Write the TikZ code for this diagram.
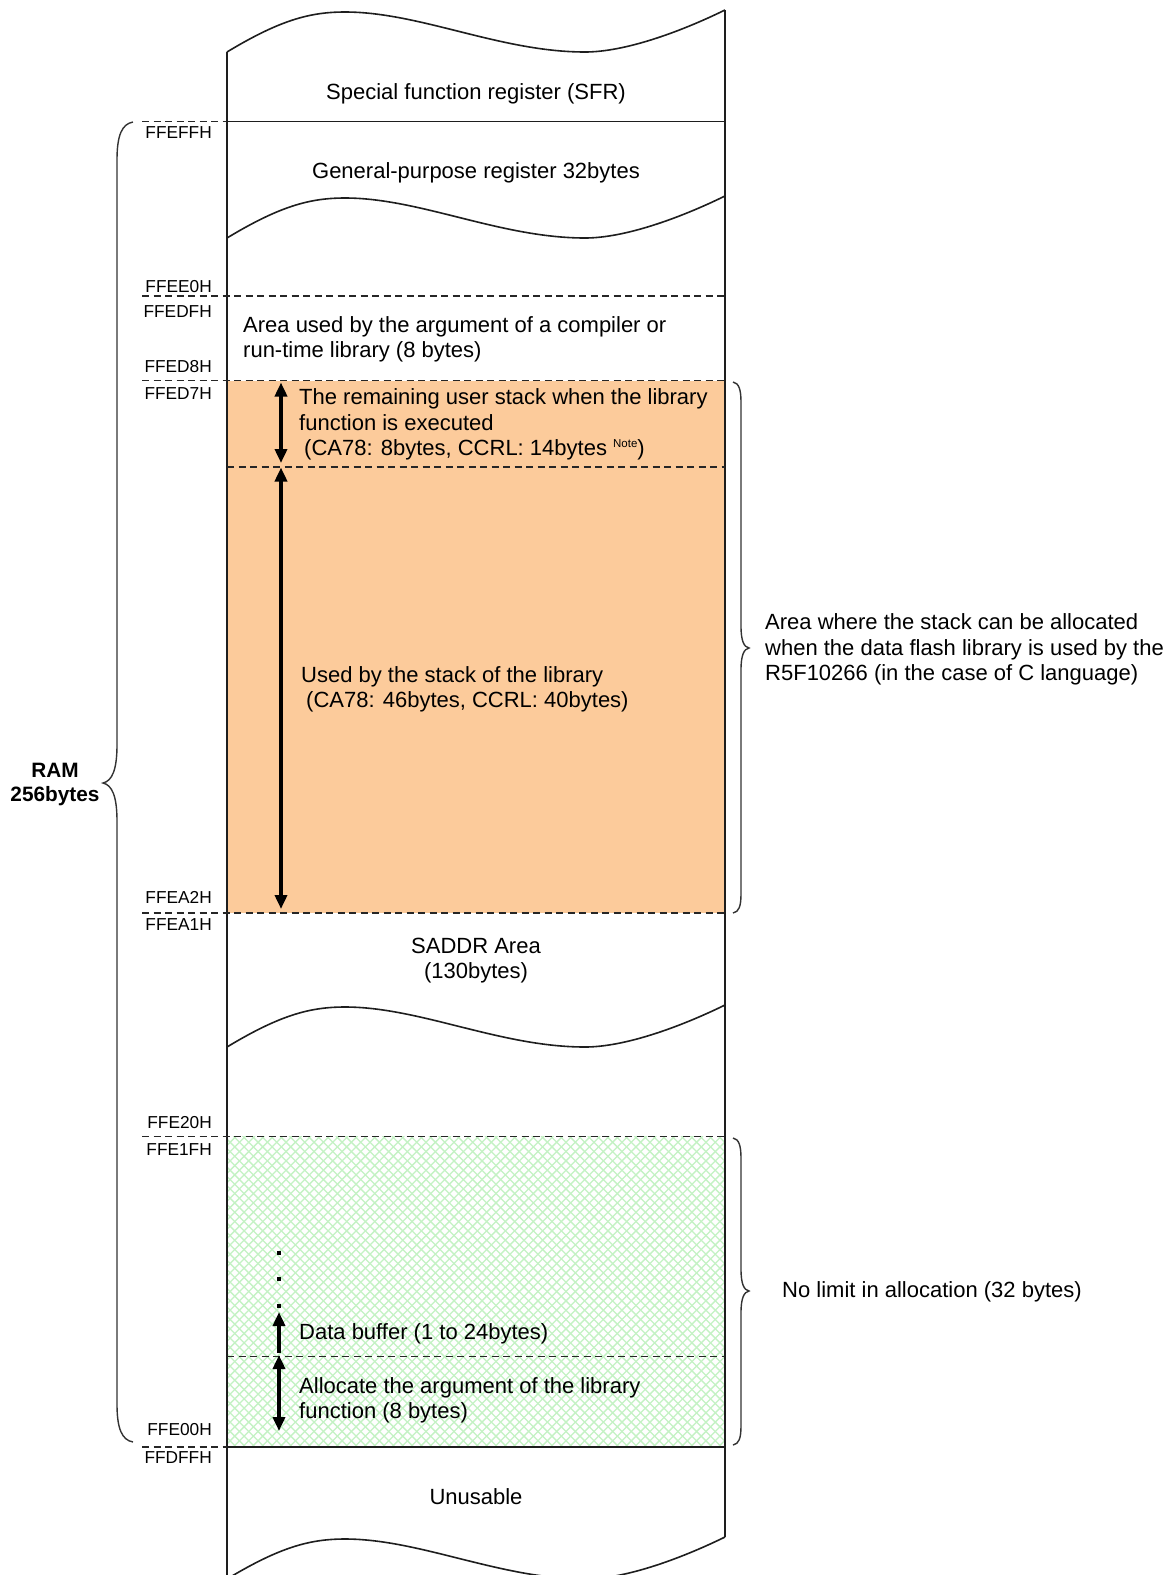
\documentclass[tikz,border=0pt]{standalone}
\usepackage{fontspec}
\setmainfont{Liberation Sans}
\usetikzlibrary{arrows.meta}
\definecolor{stackorange}{RGB}{252,203,155}
\definecolor{hatchgreen}{RGB}{196,242,196}
\definecolor{inkline}{RGB}{30,30,30}
\begin{document}
\begin{tikzpicture}[x=1pt,y=-1pt,
  frame/.style={draw=inkline,line width=1.6pt},
  dashline/.style={draw=black!85,line width=1.6pt,dash pattern=on 7pt off 4.5pt},
  bracepath/.style={draw=black!80,line width=1.4pt},
  hatch/.style={draw=hatchgreen,line width=1.3pt},
  dimarrow/.style={line width=4.3pt,{Triangle[width=12pt,length=14pt]}-{Triangle[width=12pt,length=14pt]}},
  uparrow/.style={line width=4.3pt,-{Triangle[width=12pt,length=14pt]}},
  maintxt/.style={font=\fontsize{22}{26}\selectfont,inner sep=0pt,anchor=base},
  mainleft/.style={maintxt,anchor=base west},
  hexlbl/.style={font=\fontsize{17.3}{20}\selectfont,inner sep=0pt,anchor=base east},
  ramlbl/.style={font=\bfseries\fontsize{20.8}{24}\selectfont,inner sep=0pt,anchor=base}]
\useasboundingbox (0,0) rectangle (1172,1575);
\clip (0,0) rectangle (1172,1575);
\fill[white] (0,0) rectangle (1172,1575);

% coloured areas
\fill[stackorange] (227,380.5) rectangle (725,913);
\begin{scope}
  \clip (227,1136.5) rectangle (725,1447);
  \foreach \i in {0,...,90} {
    \draw[hatch] ({1363+\i*9.33-1447},1447) -- ({1363+\i*9.33-1136},1136);
    \draw[hatch] ({-1220+\i*9.33+1136},1136) -- ({-1220+\i*9.33+1447},1447);
  }
\end{scope}

% column borders
\draw[frame] (227,52) -- (227,1580);
\draw[frame] (725,10) -- (725,1537);

% break waves
\foreach \o in {0,186,995,1527} {
  \draw[frame] (227,{52+\o}) .. controls (280,{20+\o}) and (310,{12+\o}) .. (345,{12+\o})
     .. controls (420,{12+\o}) and (500,{52+\o}) .. (585,{52+\o})
     .. controls (625,{52+\o}) and (680,{32+\o}) .. (725,{10+\o});
}

% solid boundaries
\draw[frame] (227,121.5) -- (725,121.5);
\draw[frame] (227,1447) -- (725,1447);

% dashed boundaries
\draw[dashline] (142,121.5) -- (227,121.5);
\draw[dashline] (142,296) -- (725,296);
\draw[dashline] (142,380.5) -- (725,380.5);
\draw[dashline] (227,467) -- (725,467);
\draw[dashline] (142,913) -- (725,913);
\draw[dashline] (142,1136.5) -- (725,1136.5);
\draw[dashline] (227,1356.5) -- (725,1356.5);
\draw[dashline] (142,1447) -- (227,1447);

% address labels
\node[hexlbl] (hFFEFF) at (212,138) {FFEFFH};
\node[hexlbl] (hFFEE0) at (212,292) {FFEE0H};
\node[hexlbl] (hFFEDF) at (212,317) {FFEDFH};
\node[hexlbl] (hFFED8) at (212,372) {FFED8H};
\node[hexlbl] (hFFED7) at (212,399) {FFED7H};
\node[hexlbl] (hFFEA2) at (212,903.5) {FFEA2H};
\node[hexlbl] (hFFEA1) at (212,930.5) {FFEA1H};
\node[hexlbl] (hFFE20) at (212,1128.5) {FFE20H};
\node[hexlbl] (hFFE1F) at (212,1155.5) {FFE1FH};
\node[hexlbl] (hFFE00) at (212,1435.5) {FFE00H};
\node[hexlbl] (hFFDFF) at (212,1463.5) {FFDFFH};

% texts in the column
\node[maintxt] (sfr) at (476,99) {Special function register (SFR)};
\node[maintxt] (gpr) at (476,178) {General-purpose register 32bytes};
\node[mainleft] (arg1) at (243,332) {Area used by the argument of a compiler or};
\node[mainleft] (arg2) at (243,357) {run-time library (8 bytes)};
\node[mainleft] (rem1) at (299,404) {The remaining user stack when the library};
\node[mainleft] (rem2) at (299,430) {function is executed};
\node[mainleft] (rem3) at (304,455.5) {(CA78: 8bytes, CCRL: 14bytes \raisebox{8pt}{\fontsize{11.5}{12}\selectfont Note})};
\node[mainleft] (use1) at (301,682) {Used by the stack of the library};
\node[mainleft] (use2) at (306,707) {(CA78: 46bytes, CCRL: 40bytes)};
\node[maintxt] (sad1) at (476,953) {SADDR Area};
\node[maintxt] (sad2) at (476,978) {(130bytes)};
\node[mainleft] (buf) at (299,1339.5) {Data buffer (1 to 24bytes)};
\node[mainleft] (alo1) at (299,1393.5) {Allocate the argument of the library};
\node[mainleft] (alo2) at (299,1418.5) {function (8 bytes)};
\node[maintxt] (unu) at (476,1504) {Unusable};

% dimension arrows
\coordinate (a1t) at (281,382.5);
\coordinate (a1b) at (281,463);
\coordinate (a2t) at (281,467.5);
\coordinate (a2b) at (281,909);
\coordinate (a3b) at (279,1353);
\coordinate (a3t) at (279,1312);
\coordinate (a4t) at (279,1355);
\coordinate (a4b) at (279,1431);
\draw[dimarrow] (a1t) -- (a1b);
\draw[dimarrow] (a2t) -- (a2b);
\draw[uparrow] (a3b) -- (a3t);
\draw[dimarrow] (a4t) -- (a4b);

% continuation dots
\fill (277,1251) rectangle (281,1255);
\fill (277,1277) rectangle (281,1281);
\fill (277,1304) rectangle (281,1308);

% left brace: RAM
\draw[bracepath] (133,122) .. controls (122,124) and (117,135) .. (117,160) -- (117,745)
  .. controls (117,770) and (112,781) .. (103,783)
  .. controls (112,785) and (117,796) .. (117,821) -- (117,1404)
  .. controls (117,1429) and (122,1440) .. (133,1442);
\node[ramlbl] (ram1) at (55,777) {RAM};
\node[ramlbl] (ram2) at (55,801) {256bytes};

% right brace: stack area
\draw[bracepath] (733,382) .. controls (739,383) and (741,390) .. (741,402) -- (741,626)
  .. controls (741,641) and (744,647) .. (749,648)
  .. controls (744,649) and (741,655) .. (741,670) -- (741,894)
  .. controls (741,906) and (739,912) .. (733,913);
\node[mainleft] (stk1) at (765,629) {Area where the stack can be allocated};
\node[mainleft] (stk2) at (765,655) {when the data flash library is used by the};
\node[mainleft] (stk3) at (765,680) {R5F10266 (in the case of C language)};

% right brace: no limit
\draw[bracepath] (733,1138) .. controls (739,1139) and (741,1146) .. (741,1158) -- (741,1269)
  .. controls (741,1284) and (744,1290) .. (749,1291)
  .. controls (744,1292) and (741,1298) .. (741,1313) -- (741,1426)
  .. controls (741,1438) and (739,1444) .. (733,1445);
\node[mainleft] (nolim) at (782,1297) {No limit in allocation (32 bytes)};
\end{tikzpicture}
\end{document}
